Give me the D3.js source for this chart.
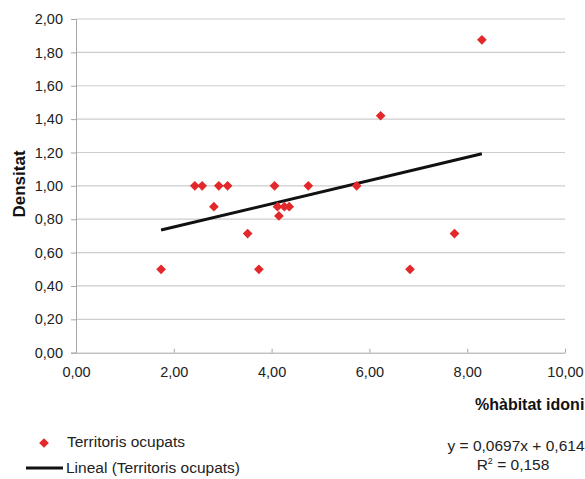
<!DOCTYPE html>
<html>
<head>
<meta charset="utf-8">
<script src="https://cdn.jsdelivr.net/npm/d3@7"></script>
<style>
  body { margin: 0; background: #fff; }
  svg { display: block; font-family: "Liberation Sans", Arial, sans-serif; }
</style>
</head>
<body>
<svg width="585" height="479" viewBox="0 0 585 479"></svg>
<script>
// % hàbitat idoni vs densitat, one point per territori
const habitat = [1.74, 2.43, 2.58, 2.92, 3.10, 2.82, 3.51, 3.74, 4.06, 4.12, 4.26, 4.36, 4.15, 4.75, 5.74, 6.23, 6.83, 7.74, 8.30];
const densitat = [0.50, 1.00, 1.00, 1.00, 1.00, 0.875, 0.714, 0.50, 1.00, 0.875, 0.875, 0.875, 0.82, 1.00, 1.00, 1.42, 0.50, 0.714, 1.875];
const xTicks = [0, 2, 4, 6, 8, 10];
const yTicks = [0, 0.2, 0.4, 0.6, 0.8, 1.0, 1.2, 1.4, 1.6, 1.8, 2.0];
const trend = { slope: 0.0697, intercept: 0.614, r2: "0,158" };

const svg = d3.select("svg");
const fmt = d => d.toFixed(2).replace(".", ",");

const x = d3.scaleLinear().domain([0, 10]).range([76, 565]);
const y = d3.scaleLinear().domain([0, 2]).range([352.7, 19]);

const red = "#e2282b";

// grid
svg.append("g")
    .selectAll("line")
    .data(yTicks.slice(1))
    .enter()
    .append("line")
    .attr("x1", x(0)).attr("x2", x(10))
    .attr("y1", d => y(d)).attr("y2", d => y(d))
    .attr("stroke", "#cdcdcd")
    .attr("stroke-width", 1.2);

// y axis
const yAxis = svg.append("g").attr("transform", `translate(${x(0)},0)`)
    .call(d3.axisLeft(y).tickValues(yTicks).tickFormat(fmt).tickSize(5).tickPadding(8));
yAxis.select(".domain").attr("stroke", "#a6a6a6");
yAxis.selectAll(".tick line").attr("stroke", "#a6a6a6");
yAxis.selectAll("text").attr("font-size", 14.5).attr("fill", "#222")
    .attr("font-family", "Liberation Sans, Arial, sans-serif");

// x axis
const xAxis = svg.append("g").attr("transform", `translate(0,${y(0)})`)
    .call(d3.axisBottom(x).tickValues(xTicks).tickFormat(fmt).tickSizeInner(-4).tickSizeOuter(0).tickPadding(14));
xAxis.select(".domain").attr("stroke", "#a6a6a6");
xAxis.selectAll(".tick line").attr("stroke", "#a6a6a6");
xAxis.selectAll("text").attr("font-size", 14.5).attr("fill", "#222")
    .attr("font-family", "Liberation Sans, Arial, sans-serif");

// trend line
const xMin = d3.min(habitat), xMax = d3.max(habitat);
svg.append("line")
    .attr("x1", x(xMin)).attr("y1", y(trend.slope * xMin + trend.intercept))
    .attr("x2", x(xMax)).attr("y2", y(trend.slope * xMax + trend.intercept))
    .attr("stroke", "#111")
    .attr("stroke-width", 3);

// points
const diamond = d3.symbol().type(d3.symbolDiamond2).size(60);
svg.append("g")
    .selectAll("path")
    .data(habitat.map((h, i) => [h, densitat[i]]))
    .enter()
    .append("path")
    .attr("d", diamond)
    .attr("transform", d => `translate(${x(d[0])},${y(d[1])})`)
    .attr("fill", red);

// axis titles
svg.append("text")
    .attr("transform", "translate(25,184) rotate(-90)")
    .attr("text-anchor", "middle")
    .attr("font-size", 17).attr("font-weight", "bold").attr("fill", "#111")
    .text("Densitat");

svg.append("text")
    .attr("x", 475).attr("y", 410)
    .attr("font-size", 16).attr("font-weight", "bold").attr("fill", "#111")
    .text("%hàbitat idoni");

// legend
svg.append("path")
    .attr("d", diamond)
    .attr("transform", "translate(44,443)")
    .attr("fill", red);
svg.append("text")
    .attr("x", 67).attr("y", 447)
    .attr("font-size", 15.5).attr("fill", "#222")
    .text("Territoris ocupats");

svg.append("line")
    .attr("x1", 26).attr("x2", 63).attr("y1", 468).attr("y2", 468)
    .attr("stroke", "#111").attr("stroke-width", 3);
svg.append("text")
    .attr("x", 66).attr("y", 473)
    .attr("font-size", 15.5).attr("fill", "#222")
    .text("Lineal (Territoris ocupats)");

// equation
svg.append("text")
    .attr("x", 516).attr("y", 451)
    .attr("text-anchor", "middle")
    .attr("font-size", 15.5).attr("fill", "#222")
    .text(`y = ${String(trend.slope).replace(".", ",")}x + ${String(trend.intercept).replace(".", ",")}`);

const r2 = svg.append("text")
    .attr("x", 513).attr("y", 470)
    .attr("text-anchor", "middle")
    .attr("font-size", 15.5).attr("fill", "#222");
r2.append("tspan").text("R");
r2.append("tspan").attr("font-size", 9).attr("dy", -6).text("2");
r2.append("tspan").attr("dy", 6).text(` = ${trend.r2}`);
</script>
</body>
</html>
